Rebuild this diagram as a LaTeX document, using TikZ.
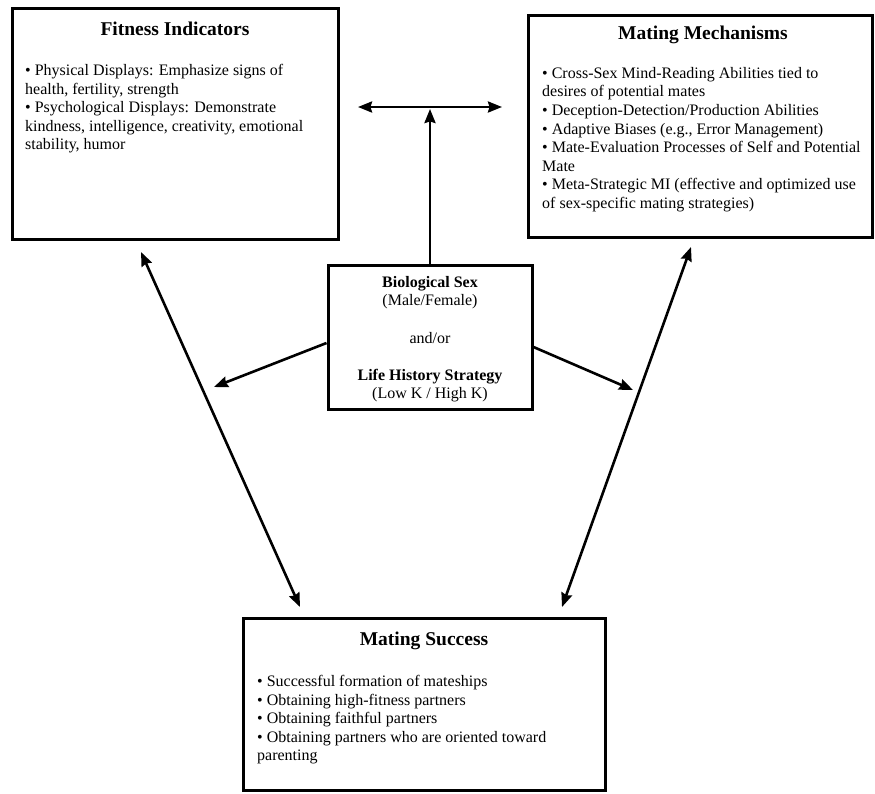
\documentclass[tikz,border=0pt]{standalone}
\usepackage{fontspec}
\setmainfont{Liberation Serif}
\usetikzlibrary{arrows.meta}
\begin{document}
\begin{tikzpicture}[x=1pt,y=-1pt,
  box/.style={draw=black, line width=3pt, fill=white, inner sep=0pt},
  heading/.style={font=\fontsize{19.5}{22}\selectfont\bfseries, inner sep=0pt, anchor=base},
  body/.style={font=\fontsize{16}{18.6}\selectfont, align=left, inner sep=0pt, anchor=north west},
  tip/.tip={Stealth[length=14pt,width=11pt,inset=1.5pt]},
  link/.style={line width=2.6pt, -tip},
  dlink/.style={line width=2.6pt, tip-tip}
]
\useasboundingbox (0,0) rectangle (875,793);

% the four boxes
\node[box, minimum width=326pt, minimum height=231pt] (fit) at (175,123.5) {};
\node[box, minimum width=344pt, minimum height=222pt] (mech) at (700,126) {};
\node[box, minimum width=204pt, minimum height=144pt] (bio) at (430,337) {};
\node[box, minimum width=362pt, minimum height=172pt] (succ) at (424,704) {};

% headings
\node[heading] (fitT) at (175,35) {Fitness Indicators};
\node[heading] (mechT) at (703,39) {Mating Mechanisms};
\node[heading] (succT) at (424,645) {Mating Success};

% box contents
\node[body] (fitB) at (25,64) {%
• Physical Displays: Emphasize signs of\\
health, fertility, strength\\
• Psychological Displays: Demonstrate\\
kindness, intelligence, creativity, emotional\\
stability, humor};

\node[body] (mechB) at (542,67) {%
• Cross-Sex Mind-Reading Abilities tied to\\
desires of potential mates\\
• Deception-Detection/Production Abilities\\
• Adaptive Biases (e.g., Error Management)\\
• Mate-Evaluation Processes of Self and Potential\\
Mate\\
• Meta-Strategic MI (effective and optimized use\\
of sex-specific mating strategies)};

\node[body] (succB) at (257,675) {%
• Successful formation of mateships\\
• Obtaining high-fitness partners\\
• Obtaining faithful partners\\
• Obtaining partners who are oriented toward\\
parenting};

\node[font=\fontsize{16}{18.6}\selectfont, align=center, inner sep=0pt, anchor=north] (bioT) at (430,276) {%
\textbf{Biological Sex}\\
(Male/Female)\\[18.6pt]
and/or\\[18.6pt]
\textbf{Life History Strategy}\\
(Low K / High K)};

% free arrow ends
\coordinate (hl) at (358,107);
\coordinate (hr) at (502,107);
\coordinate (vt) at (430,109);
\coordinate (sl) at (214,387);
\coordinate (sr) at (633,390);
\coordinate (fitA) at (141,252);
\coordinate (succL) at (300,607);
\coordinate (mechA) at (691,247);
\coordinate (succR) at (562,607);

% connectors
\draw[dlink] (hl) -- (hr);
\draw[link] (bio.north) -- (vt);
\draw[link] ([yshift=-6pt]bio.west) -- (sl);
\draw[link] ([yshift=-10pt]bio.east) -- (sr);
\draw[dlink] (fitA) -- (succL);
\draw[dlink] (mechA) -- (succR);
\end{tikzpicture}
\end{document}
